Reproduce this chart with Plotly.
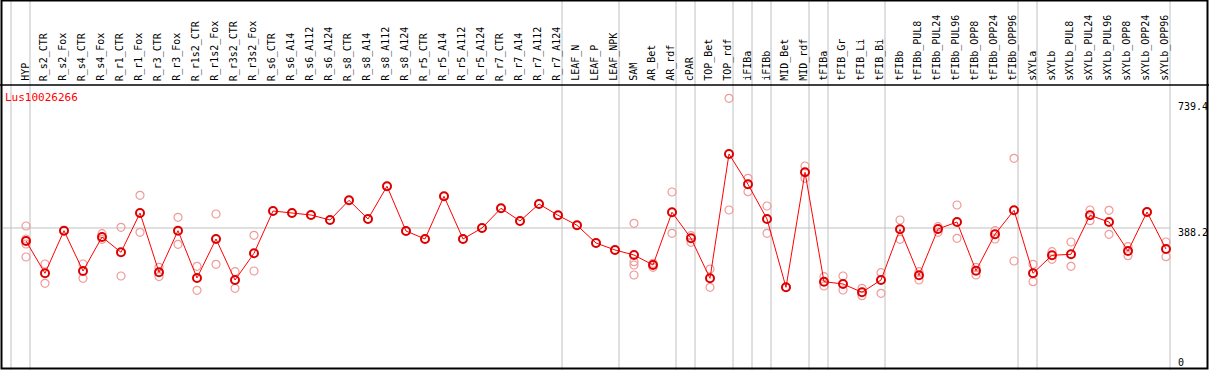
import plotly.graph_objects as go

categories = ["HYP", "R_s2_CTR", "R_s2_Fox", "R_s4_CTR", "R_s4_Fox", "R_r1_CTR", "R_r1_Fox",
              "R_r3_CTR", "R_r3_Fox", "R_r1s2_CTR", "R_r1s2_Fox", "R_r3s2_CTR", "R_r3s2_Fox",
              "R_s6_CTR", "R_s6_A14", "R_s6_A112", "R_s6_A124", "R_s8_CTR", "R_s8_A14", "R_s8_A112",
              "R_s8_A124", "R_r5_CTR", "R_r5_A14", "R_r5_A112", "R_r5_A124", "R_r7_CTR", "R_r7_A14",
              "R_r7_A112", "R_r7_A124", "LEAF_N", "LEAF_P", "LEAF_NPK", "SAM", "AR_Bet", "AR_rdf",
              "cPAR", "TOP_Bet", "TOP_rdf", "iFIBa", "iFIBb", "MID_Bet", "MID_rdf", "tFIBa",
              "tFIB_Gr", "tFIB_Li", "tFIB_Bi", "tFIBb", "tFIBb_PUL8", "tFIBb_PUL24", "tFIBb_PUL96",
              "tFIBb_OPP8", "tFIBb_OPP24", "tFIBb_OPP96", "sXYLa", "sXYLb", "sXYLb_PUL8",
              "sXYLb_PUL24", "sXYLb_PUL96", "sXYLb_OPP8", "sXYLb_OPP24", "sXYLb_OPP96"]

mean_values = [351.3, 259.8, 380.5, 266.3, 362.6, 319.3, 430.6, 262.6, 380.5, 246.5, 357.0,
               240.8, 316.4, 436.3, 430.6, 424.9, 410.8, 466.6, 413.6, 506.4, 379.6, 357.0,
               478.0, 357.0, 388.1, 443.9, 407.9, 456.1, 424.1, 395.8, 345.6, 325.8, 311.6,
               283.3, 432.6, 358.9, 245.6, 597.7, 511.9, 413.6, 220.1, 545.9, 236.0, 229.5,
               206.0, 240.8, 384.4, 254.1, 385.3, 405.1, 267.1, 370.3, 438.2, 259.8, 310.8,
               313.6, 424.1, 405.1, 322.9, 433.4, 328.6]

replicate_values = [
    [393.8, 356.9, 342.8, 306.0], [286.1, 231.4], [380.5, 380.5], [286.1, 245.6],
    [371.9, 356.1], [390.1, 252.1], [480.7, 375.9], [276.8, 250.4], [418.4, 341.9],
    [279.6, 211.6], [427.8, 285.3], [264.3, 217.3], [367.4, 266.3], [436.3], [430.6],
    [424.9], [410.8], [466.6], [413.6], [506.4], [379.6], [357.0], [478.0], [357.0],
    [388.1], [443.9], [407.9], [456.1], [424.1], [395.8], [345.6], [325.8],
    [401.4, 292.6, 283.3, 255.0], [288.1, 276.8], [490.1, 373.1], [366.3, 347.6],
    [271.7, 220.1], [755.5, 439.1], [528.9, 491.0], [450.4, 373.1], [220.1],
    [563.7, 528.9], [250.1, 223.8], [252.1, 212.5], [217.3, 196.3], [261.5, 203.1],
    [410.8, 356.1], [264.3, 240.8], [391.8, 375.9], [453.3, 358.9], [276.8, 255.0],
    [380.5, 357.0], [585.6, 294.6], [285.3, 236.0], [321.0, 299.4], [348.4, 279.6],
    [439.1, 408.8], [438.2, 370.3], [335.1, 309.6], [433.4], [348.4, 306.8]]

gene_name = "Lus10026266"
right_ticks = [739.4, 388.2, 0]
right_tick_labels = ["739.4", "388.2", "0"]
group_after = [-1, 0, 28, 31, 34, 35, 37, 38, 39, 41, 42, 45, 52, 53, 60]

W, H = 1209, 370
STEP = 19.0
X0PX = 26.0
x_lo = -X0PX / STEP
x_hi = x_lo + W / STEP
# y mapping: pixel = 365 - 0.353 * v
K = 0.353
y_hi = 365 / K
y_lo = -(H - 365) / K

xs = list(range(len(categories)))
rx, ry = [], []
for i, reps in enumerate(replicate_values):
    for v in reps:
        rx.append(i)
        ry.append(v)

fig = go.Figure()
fig.add_trace(go.Scatter(x=rx, y=ry, mode="markers",
                         marker=dict(symbol="circle-open", size=8, color="#f09a9a",
                                     line=dict(width=1.2, color="#f09a9a")),
                         hoverinfo="skip", showlegend=False))
fig.add_trace(go.Scatter(x=xs, y=mean_values, mode="lines+markers",
                         line=dict(color="#ff0000", width=1),
                         marker=dict(symbol="circle-open", size=8, color="#dd0000",
                                     line=dict(width=2, color="#dd0000")),
                         showlegend=False))

shapes = []
gray = "#c0c0c0"
for g in group_after:
    xp = X0PX + STEP * g + 4
    shapes.append(dict(type="line", xref="x", yref="paper",
                       x0=x_lo + xp / STEP, x1=x_lo + xp / STEP, y0=0, y1=1,
                       line=dict(color=gray, width=1), layer="below"))
# horizontal gridline at middle value
shapes.append(dict(type="line", xref="paper", yref="y", x0=3 / W, x1=(X0PX + STEP * 60 + 4) / W,
                   y0=right_ticks[1], y1=right_ticks[1], line=dict(color=gray, width=1), layer="below"))
# borders
blk = "black"
shapes.append(dict(type="rect", xref="paper", yref="paper", x0=1.5 / W, x1=1 - 1.5 / W,
                   y0=1 - 368.5 / H, y1=1 - 0.5 / H, line=dict(color=blk, width=2), layer="above"))
shapes.append(dict(type="line", xref="paper", yref="paper", x0=0, x1=1,
                   y0=1 - 85 / H, y1=1 - 85 / H, line=dict(color=blk, width=1.5)))

annotations = []
for i, c in enumerate(categories):
    annotations.append(dict(x=i - 0.06, y=1 - 83 / H, xref="x", yref="paper", text=c,
                            textangle=-90, showarrow=False, xanchor="center", yanchor="bottom",
                            font=dict(family="DejaVu Sans Mono", size=10, color="black")))
annotations.append(dict(x=3 / W, y=1 - 98 / H, xref="paper", yref="paper", text=gene_name,
                        showarrow=False, xanchor="left", yanchor="middle",
                        font=dict(family="DejaVu Sans Mono", size=11, color="#ff0000")))
label_px = [107, 232, 362]
for v, t, py in zip(right_ticks, right_tick_labels, label_px):
    annotations.append(dict(x=1176 / W, y=1 - py / H, xref="paper", yref="paper", text=t,
                            showarrow=False, xanchor="left", yanchor="middle",
                            font=dict(family="DejaVu Sans Mono", size=10, color="black")))

fig.update_layout(width=W, height=H, margin=dict(l=0, r=0, t=0, b=0),
                  paper_bgcolor="white", plot_bgcolor="white",
                  xaxis=dict(range=[x_lo, x_hi], visible=False, showgrid=False, zeroline=False),
                  yaxis=dict(range=[y_lo, y_hi], visible=False, showgrid=False, zeroline=False),
                  shapes=shapes, annotations=annotations)
fig.write_html("out.html", config={"displayModeBar": False},
               post_script="document.body.style.margin='0';document.body.style.overflow='hidden';")
